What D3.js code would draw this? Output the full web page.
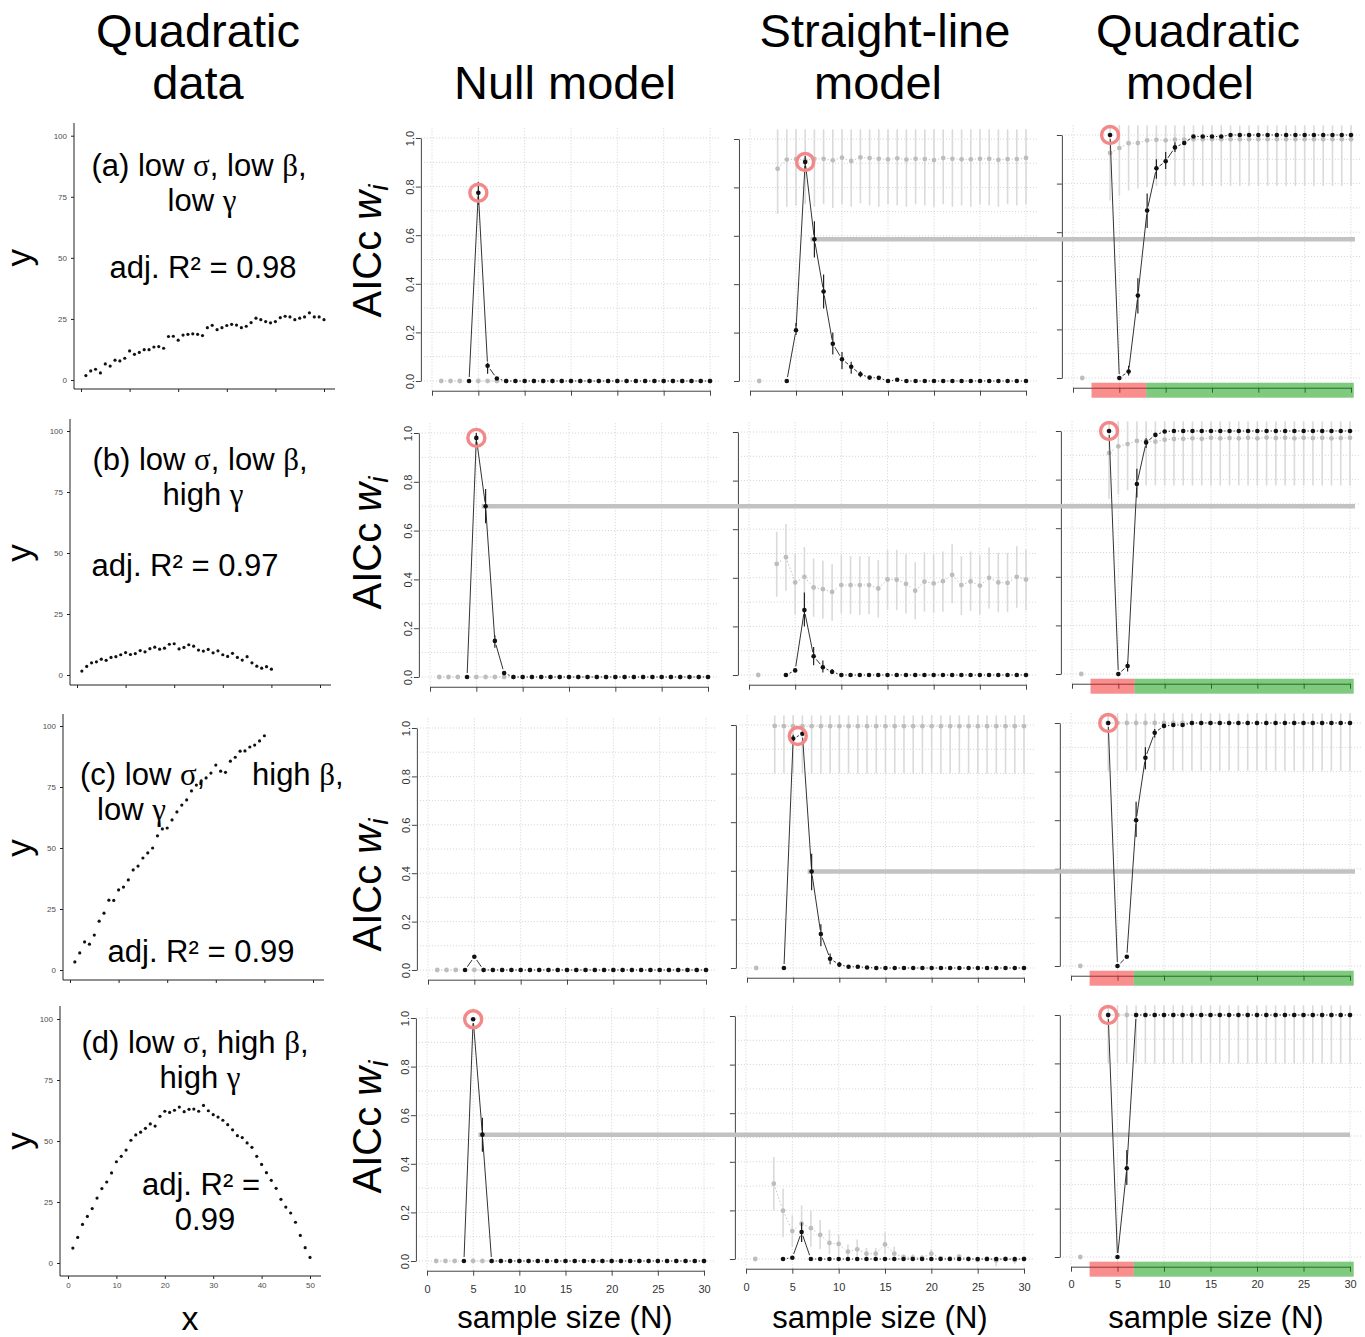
<!DOCTYPE html>
<html lang="en">
<head>
<meta charset="UTF-8">
<title>AICc weights by sample size</title>
<script src="https://d3js.org/d3.v7.min.js"></script>
<style>
  body { margin: 0; background: #fff; }
  svg { font-family: "Liberation Sans", Arial, sans-serif; }
  .grid line { stroke: #d2d2d2; stroke-dasharray: 1,2; stroke-width: 1; }
  .rax path, .rax line { stroke: #444; stroke-width: 1; }
  .rax text { font-size: 11px; fill: #333; }
  .gax line { stroke: #222; }
  .gax text { font-size: 8px; fill: #4d4d4d; }
  .big { font-size: 47px; fill: #000; }
</style>
</head>
<body>
<svg width="1365" height="1337"></svg>
<script>
// ---------- data ----------
const N = [1,2,3,4,5,6,7,8,9,10,11,12,13,14,15,16,17,18,19,20,21,22,23,24,25,26,27,28,29,30];
const gridN = [0,5,10,15,20,25,30];
const gridW = [0,0.1,0.2,0.3,0.4,0.5,0.6,0.7,0.8,0.9,1];
const tickW = [0,0.2,0.4,0.6,0.8,1];

// simulated quadratic data (left column)
const quadX = [1,2,3,4,5,6,7,8,9,10,11,12,13,14,15,16,17,18,19,20,21,22,23,24,25,26,27,28,29,30,31,32,33,34,35,36,37,38,39,40,41,42,43,44,45,46,47,48,49,50];
const quadA = [1.8,3.7,4.4,2.9,6.6,5.7,8.1,7.8,8.9,11.9,10.5,11.3,12.4,12.4,13.5,13.7,13.0,17.8,17.9,16.3,18.4,18.7,18.9,18.7,18.2,21.4,22.4,20.6,21.4,22.3,22.8,22.5,21.4,22.0,23.5,25.3,24.7,23.9,23.4,23.9,25.5,26.1,25.8,24.7,25.3,25.8,27.5,25.8,25.8,24.7];
const quadB = [1.6,3.5,5.0,5.4,6.5,6.0,7.2,7.5,8.3,9.2,8.4,8.8,10.0,9.5,10.8,11.4,10.6,11.0,12.6,12.8,10.7,11.3,12.4,11.8,10.2,9.8,10.5,9.1,9.9,8.3,7.6,8.9,7.2,6.1,7.5,5.0,3.6,2.8,3.4,2.4];
const quadC = [3.3,7.0,11.5,10.6,14.3,20.0,23.3,28.6,28.5,32.8,34.0,36.9,41.0,42.6,45.9,48.0,50.0,55.0,57.8,58.2,61.5,64.8,67.6,69.7,73.4,75.8,77.5,78.7,80.7,84.0,81.5,81.0,85.6,87.2,89.7,89.8,91.4,92.2,93.9,96.0];
const quadD = [6.1,10.5,15.8,19.1,22.3,26.6,30.5,33.2,36.9,41.5,43.7,46.3,50.3,52.5,53.6,55.2,57.0,56.1,60.1,62.2,61.7,62.6,63.9,62.0,63.0,63.1,62.2,64.6,62.4,60.8,59.8,58.5,56.7,54.6,52.2,51.4,49.2,47.4,43.7,40.4,37.0,33.9,30.6,26.1,22.9,20.5,16.7,11.3,6.3,2.3];
const quadTicksX = [0,10,20,30,40,50];
const quadTicksY = [0,25,50,75,100];

// AICc weights: black = selected statistic, gray = comparison statistic
const nullGray   = [0,0,0,null,0,0,0,0,0,0, 0,0,0,0,0,0,0,0,0,0, 0,0,0,0,0,0,0,0,0,0];
const nullABlack = [null,null,null,0,0.775,0.063,0.01,0,0,0, 0,0,0,0,0,0,0,0,0,0, 0,0,0,0,0,0,0,0,0,0];
const nullBBlack = [null,null,null,0,0.98,0.70,0.148,0.016,0,0, 0,0,0,0,0,0,0,0,0,0, 0,0,0,0,0,0,0,0,0,0];
const nullCBlack = [null,null,null,0,0.055,0,0,0,0,0, 0,0,0,0,0,0,0,0,0,0, 0,0,0,0,0,0,0,0,0,0];
const nullDBlack = [null,null,null,0,0.995,0.52,0,0,0,0, 0,0,0,0,0,0,0,0,0,0, 0,0,0,0,0,0,0,0,0,0];
const nullAErr = [[5,0.725,0.82],[6,0.03,0.075]];
const nullBErr = [[5,0.95,1.0],[6,0.63,0.77],[7,0.12,0.17]];
const nullCErr = [];
const nullDErr = [[6,0.45,0.59]];

const slABlack = [null,null,null,0,0.21,0.905,0.586,0.37,0.154,0.09, 0.059,0.028,0.014,0.013,0,0.005,0,0,0,0, 0,0,0,0,0,0,0,0,0,0];
const slAErr = [[5,0.19,0.24],[6,0.88,0.93],[7,0.51,0.66],[8,0.30,0.44],[9,0.11,0.20],[10,0.05,0.12],[11,0.03,0.08],[12,0.015,0.04]];
const slAGray = [0,null,0.877,0.915,0.917,0.912,0.918,0.918,0.912,0.923, 0.909,0.924,0.921,0.918,0.916,0.92,0.915,0.918,0.917,0.913, 0.921,0.918,0.916,0.916,0.918,0.918,0.914,0.917,0.917,0.922];
const slAGrayLo = [null,null,0.69,0.72,0.725,0.73,0.72,0.73,0.715,0.73, 0.72,0.735,0.725,0.72,0.73,0.725,0.72,0.73,0.725,0.72, 0.73,0.72,0.725,0.72,0.73,0.725,0.72,0.73,0.725,0.73];
const slGrayHiTop = [null,null,1.04,1.04,1.04,1.04,1.04,1.04,1.04,1.04, 1.04,1.04,1.04,1.04,1.04,1.04,1.04,1.04,1.04,1.04, 1.04,1.04,1.04,1.04,1.04,1.04,1.04,1.04,1.04,1.04];

const slBBlack = [null,null,null,0,0.019,0.267,0.077,0.032,0.013,0, 0,0,0,0,0,0,0,0,0,0, 0,0,0,0,0,0,0,0,0,0];
const slBErr = [[6,0.2,0.34],[7,0.04,0.115],[8,0.01,0.06],[9,0.004,0.025]];
const slBGray = [0,null,0.457,0.485,0.381,0.404,0.36,0.353,0.342,0.37, 0.37,0.37,0.37,0.356,0.393,0.392,0.375,0.347,0.384,0.377, 0.386,0.412,0.37,0.385,0.368,0.40,0.381,0.379,0.404,0.393];
const slBGrayLo = [null,null,0.322,0.347,0.25,0.27,0.24,0.233,0.223,0.253, 0.25,0.247,0.25,0.237,0.267,0.267,0.253,0.229,0.26,0.256, 0.26,0.295,0.247,0.263,0.249,0.274,0.258,0.258,0.277,0.267];
const slBGrayHi = [null,null,0.589,0.621,0.5,0.527,0.479,0.47,0.456,0.493, 0.489,0.489,0.489,0.473,0.514,0.514,0.497,0.464,0.505,0.497, 0.508,0.538,0.489,0.508,0.492,0.525,0.503,0.503,0.53,0.516];

const slCBlack = [null,null,null,0,0.944,0.964,0.397,0.14,0.038,0.014, 0.005,0.005,0.002,0,0,0,0,0,0,0, 0,0,0,0,0,0,0,0,0,0];
const slCErr = [[5,0.92,0.96],[7,0.32,0.47],[8,0.09,0.18],[9,0.015,0.06],[10,0.004,0.025]];
const slCGray = [0,null,0.996,0.995,0.995,0.995,0.995,0.995,0.995,0.995, 0.995,0.995,0.995,0.995,0.995,0.995,0.995,0.995,0.995,0.995, 0.995,0.995,0.995,0.995,0.995,0.995,0.995,0.995,0.995,0.995];
const slCGrayLo = [null,null,0.8,0.8,0.8,0.8,0.8,0.8,0.8,0.8, 0.8,0.8,0.8,0.8,0.8,0.8,0.8,0.8,0.8,0.8, 0.8,0.8,0.8,0.8,0.8,0.8,0.8,0.8,0.8,0.8];

const slDBlack = [null,null,null,0,0.005,0.111,0,0,0,0, 0,0,0,0,0,0,0,0,0,0, 0,0,0,0,0,0,0,0,0,0];
const slDErr = [[6,0.07,0.15]];
const slDGray = [0,null,0.31,0.199,0.115,0.145,0.127,0.099,0.066,0.062, 0.03,0.04,0.022,0.022,0.06,0.022,0.008,0.006,0.005,0.022, 0.004,0.002,0.01,0.001,-0.004,0.001,-0.006,0.001,-0.005,0.001];
const slDGrayLo = [null,null,0.2,0.09,0.05,0.07,0.05,0.04,0.02,0.01, 0.005,0.01,0.005,0.005,0.02,0.003,0,0,0,0.005, 0,-0.005,0,-0.01,-0.015,-0.01,-0.03,-0.01,-0.02,-0.01];
const slDGrayHi = [null,null,0.42,0.29,0.18,0.22,0.2,0.16,0.12,0.1, 0.06,0.08,0.045,0.045,0.11,0.05,0.02,0.02,0.015,0.04, 0.01,0.01,0.02,0.01,0.008,0.01,0.01,0.01,0.01,0.01];

const qGrayHi = [null,null,null,1.04,1.04,1.04,1.04,1.04,1.04,1.04, 1.04,1.04,1.04,1.04,1.04,1.04,1.04,1.04,1.04,1.04, 1.04,1.04,1.04,1.04,1.04,1.04,1.04,1.04,1.04,1.04];
const qABlack = [null,null,null,1,0,0.027,0.339,0.689,0.863,0.892, 0.949,0.967,0.994,0.994,0.994,0.994,1,1,1,1, 1,1,1,1,1,1,1,1,1,1];
const qAErr = [[6,0.01,0.05],[7,0.265,0.41],[8,0.617,0.759],[9,0.82,0.9],[10,0.86,0.93],[11,0.93,0.97]];
const qAGray = [0,null,null,0.926,0.946,0.966,0.967,0.978,0.98,0.978, 0.981,0.981,0.982,0.982,0.982,0.982,0.982,0.982,0.982,0.982, 0.982,0.982,0.982,0.982,0.982,0.982,0.982,0.982,0.982,0.982];
const qAGrayLo = [null,null,null,0.73,0.75,0.772,0.78,0.785,0.79,0.79, 0.79,0.79,0.79,0.79,0.79,0.79,0.79,0.79,0.79,0.79, 0.79,0.79,0.79,0.79,0.79,0.79,0.79,0.79,0.79,0.79];

const qBBlack = [null,null,null,1,0,0.033,0.782,0.953,0.984,0.998, 1,1,1,1,1,1,1,1,1,1, 1,1,1,1,1,1,1,1,1,1];
const qBErr = [[6,0.01,0.05],[7,0.726,0.845],[8,0.93,0.97]];
const qBGray = [0,null,null,0.909,0.937,0.946,0.959,0.959,0.956,0.964, 0.967,0.968,0.97,0.968,0.972,0.97,0.971,0.97,0.972,0.97, 0.973,0.971,0.972,0.97,0.972,0.971,0.972,0.97,0.971,0.972];
const qBGrayLo = [null,null,null,0.72,0.74,0.756,0.76,0.776,0.776,0.776, 0.776,0.776,0.776,0.776,0.776,0.776,0.776,0.776,0.776,0.776, 0.776,0.776,0.776,0.776,0.776,0.776,0.776,0.776,0.776,0.776];

const qCBlack = [null,null,null,1,0,0.038,0.6,0.857,0.96,0.988, 0.992,0.992,1,1,1,1,1,1,1,1, 1,1,1,1,1,1,1,1,1,1];
const qCErr = [[7,0.531,0.676],[8,0.81,0.9],[9,0.94,0.975]];
const qCGray = [0,null,null,1,1,1,1,1,1,1, 1,1,1,1,1,1,1,1,1,1, 1,1,1,1,1,1,1,1,1,1];
const qCGrayLo = [null,null,null,0.804,0.804,0.804,0.804,0.804,0.804,0.804, 0.804,0.804,0.804,0.804,0.804,0.804,0.804,0.804,0.804,0.804, 0.804,0.804,0.804,0.804,0.804,0.804,0.804,0.804,0.804,0.804];

const qDBlack = [null,null,null,1,0,0.367,1,1,1,1, 1,1,1,1,1,1,1,1,1,1, 1,1,1,1,1,1,1,1,1,1];
const qDErr = [[6,0.298,0.442]];
const qDGray = [0,null,null,1,1,1,1,1,1,1, 1,1,1,1,1,1,1,1,1,1, 1,1,1,1,1,1,1,1,1,1];
const qDGrayLo = [null,null,null,0.8,0.8,0.8,0.8,0.8,0.8,0.8, 0.8,0.8,0.8,0.8,0.8,0.8,0.8,0.8,0.8,0.8, 0.8,0.8,0.8,0.8,0.8,0.8,0.8,0.8,0.8,0.8];

// red / green band under the quadratic model panels (sample size ranges)
const bandStart = [2, 2, 2, 2];
const bandSwitch = [7.9, 6.75, 6.75, 6.75];
const bandEnd = [30.3, 30.4, 30.4, 30.4];

// texts
const headers = [["Quadratic","data"],["Null model"],["Straight-line","model"],["Quadratic","model"]];
const panelLines = [
  ["(a) low σ, low β,", "low γ", "adj. R² = 0.98"],
  ["(b) low σ, low β,", "high γ", "adj. R² = 0.97"],
  ["(c) low σ,", "high β,", "low γ", "adj. R² = 0.99"],
  ["(d) low σ, high β,", "high γ", "adj. R² =", "0.99"]
];

// ---------- layout ----------
const headerPos = [[198,198],[565],[885,878],[1198,1190]];
const textPos = [
  [{x:199,y:176,a:"middle"},{x:202,y:211,a:"middle"},{x:203,y:278,a:"middle"}],
  [{x:200,y:470,a:"middle"},{x:203,y:505,a:"middle"},{x:185,y:576,a:"middle"}],
  [{x:80,y:785,a:"start"},{x:252,y:785,a:"start"},{x:97,y:820,a:"start"},{x:201,y:962,a:"middle"}],
  [{x:195,y:1053,a:"middle"},{x:200,y:1088,a:"middle"},{x:201,y:1195,a:"middle"},{x:205,y:1230,a:"middle"}]
];
const leftFrames = [
  {x0:81, x50:324, y0:380, y100:135.7, ax:74, ay:389, top:123},
  {x0:77, x50:320, y0:675, y100:431, ax:70, ay:685, top:419},
  {x0:70, x50:313, y0:970, y100:726, ax:63, ay:980, top:714},
  {x0:68, x50:310, y0:1263, y100:1019, ax:60, ay:1276, top:1006}
];
const frames = [
  [{n0:432,n30:710,w1:138,w0:381},{n0:750,n30:1026,w1:139,w0:381},{n0:1073,n30:1351,w1:135,w0:378}],
  [{n0:430,n30:708,w1:433,w0:677},{n0:749,n30:1026,w1:432,w0:675},{n0:1072,n30:1350,w1:431,w0:674}],
  [{n0:428,n30:706,w1:728,w0:970},{n0:747,n30:1024,w1:725,w0:968},{n0:1071,n30:1350,w1:723,w0:966}],
  [{n0:427,n30:704,w1:1018,w0:1261},{n0:746,n30:1024,w1:1016,w0:1259},{n0:1071,n30:1350,w1:1015,w0:1257}]
];
const aiccLabelY = [251, 543, 885, 1127];
const xLabelX = [565, 880, 1216];
const linkEnd = [1355, 1355, 1355, 1350];

const panels = [
  {row:0,col:0,black:nullABlack,err:nullAErr,gray:nullGray,ring:[5,0.775]},
  {row:0,col:1,black:slABlack,err:slAErr,gray:slAGray,gLo:slAGrayLo,gHi:slGrayHiTop,ring:[6,0.905],link:7},
  {row:0,col:2,black:qABlack,err:qAErr,gray:qAGray,gLo:qAGrayLo,gHi:qGrayHi,ring:[4,1]},
  {row:1,col:0,black:nullBBlack,err:nullBErr,gray:nullGray,ring:[5,0.98],link:6},
  {row:1,col:1,black:slBBlack,err:slBErr,gray:slBGray,gLo:slBGrayLo,gHi:slBGrayHi},
  {row:1,col:2,black:qBBlack,err:qBErr,gray:qBGray,gLo:qBGrayLo,gHi:qGrayHi,ring:[4,1]},
  {row:2,col:0,black:nullCBlack,err:nullCErr,gray:nullGray},
  {row:2,col:1,black:slCBlack,err:slCErr,gray:slCGray,gLo:slCGrayLo,gHi:slGrayHiTop,ring:[5.5,0.955],link:7},
  {row:2,col:2,black:qCBlack,err:qCErr,gray:qCGray,gLo:qCGrayLo,gHi:qGrayHi,ring:[4,1]},
  {row:3,col:0,black:nullDBlack,err:nullDErr,gray:nullGray,ring:[5,0.995],link:6},
  {row:3,col:1,black:slDBlack,err:slDErr,gray:slDGray,gLo:slDGrayLo,gHi:slDGrayHi},
  {row:3,col:2,black:qDBlack,err:qDErr,gray:qDGray,gLo:qDGrayLo,gHi:qGrayHi,ring:[4,1]}
];

const svg = d3.select("svg");
const defs = svg.append("defs");
const back = svg.append("g");
const mid = svg.append("g");
const front = svg.append("g");

// write a string, putting greek letters in a serif face
function richText(sel, str) {
  str.split(/([σβγ])/).filter(s => s.length).forEach(s => {
    const t = sel.append("tspan").text(s);
    if (/[σβγ]/.test(s)) t.attr("font-family", "'Liberation Serif', 'DejaVu Serif', serif");
  });
}

// R "type b" line: segments with a gap at each point
function gapSegments(pts, gap) {
  const out = [];
  for (let k = 1; k < pts.length; k++) {
    const a = pts[k-1], b = pts[k];
    if (!a || !b) continue;
    const dx = b[0]-a[0], dy = b[1]-a[1], len = Math.hypot(dx, dy);
    if (len <= 2*gap) continue;
    const ux = dx/len, uy = dy/len;
    out.push([a[0]+ux*gap, a[1]+uy*gap, b[0]-ux*gap, b[1]-uy*gap]);
  }
  return out;
}

// ---------- headers ----------
headers.forEach((lines, c) => {
  lines.forEach((s, k) => {
    const baseline = lines.length === 2 ? (k === 0 ? 47 : 99) : 99;
    svg.append("text").attr("class","big").attr("x", headerPos[c][k]).attr("y", baseline)
      .attr("text-anchor","middle").text(s);
  });
});

// ---------- left column: quadratic data ----------
[quadA, quadB, quadC, quadD].forEach((vals, i) => {
  const F = leftFrames[i];
  const x = d3.scaleLinear().domain([0,50]).range([F.x0, F.x50]);
  const y = d3.scaleLinear().domain([0,100]).range([F.y0, F.y100]);

  back.append("line").attr("x1",F.ax).attr("x2",F.ax).attr("y1",F.top).attr("y2",F.ay).attr("stroke","#222");
  back.append("line").attr("x1",F.ax).attr("x2",x(50)+11).attr("y1",F.ay).attr("y2",F.ay).attr("stroke","#222");

  const ya = back.append("g").attr("class","gax").attr("transform",`translate(${F.ax},0)`)
    .call(d3.axisLeft(y).tickValues(quadTicksY).tickSize(3).tickPadding(4));
  ya.select(".domain").remove();
  const xa = back.append("g").attr("class","gax").attr("transform",`translate(0,${F.ay})`)
    .call(d3.axisBottom(x).tickValues(quadTicksX).tickSize(3).tickPadding(3)
      .tickFormat(i === 3 ? d3.format("d") : ""));
  xa.select(".domain").remove();

  front.append("g").selectAll("circle").data(vals).join("circle")
    .attr("cx", (v, k) => x(quadX[k])).attr("cy", v => y(v)).attr("r", 1.6).attr("fill", "#111");

  panelLines[i].forEach((s, k) => {
    const p = textPos[i][k];
    const t = svg.append("text").attr("x", p.x).attr("y", p.y).attr("text-anchor", p.a)
      .attr("font-size", 31).attr("fill", "#000");
    richText(t, s);
  });

  const yc = (F.y0 + F.y100) / 2;
  svg.append("text").attr("transform", `translate(31,${yc}) rotate(-90)`)
    .attr("text-anchor","middle").attr("font-size", 35).text("y");
});
svg.append("text").attr("x", 190).attr("y", 1330).attr("text-anchor","middle").attr("font-size", 34).text("x");

// ---------- AICc weight panels ----------
panels.forEach((p, idx) => {
  const F = frames[p.row][p.col];
  const x = d3.scaleLinear().domain([0,30]).range([F.n0, F.n30]);
  const y = d3.scaleLinear().domain([0,1]).range([F.w0, F.w1]);
  const L = x(-1.2), R = x(31.2), T = y(1.04), B = y(-0.04);
  const clipId = "clip" + idx;
  defs.append("clipPath").attr("id", clipId).append("rect")
    .attr("x", L).attr("y", T).attr("width", R - L).attr("height", B - T);

  const g = back.append("g").attr("class","grid");
  g.selectAll("line.v").data(gridN).join("line").attr("class","v")
    .attr("x1", d => x(d)).attr("x2", d => x(d)).attr("y1", T).attr("y2", B);
  g.selectAll("line.h").data(gridW).join("line").attr("class","h")
    .attr("x1", L).attr("x2", R).attr("y1", d => y(d)).attr("y2", d => y(d));

  const ya = back.append("g").attr("class","rax").attr("transform",`translate(${L},0)`)
    .call(d3.axisLeft(y).tickValues(tickW).tickSize(5).tickSizeOuter(0)
      .tickFormat(p.col === 0 ? d3.format(".1f") : ""));
  ya.selectAll(".tick text").attr("x", null).attr("dy", null).attr("text-anchor","middle")
    .attr("transform","translate(-7,0) rotate(-90)");
  back.append("g").attr("class","rax").attr("transform",`translate(0,${B})`)
    .call(d3.axisBottom(x).tickValues(gridN).tickSize(5).tickSizeOuter(0).tickPadding(9)
      .tickFormat(p.row === 3 ? d3.format("d") : ""));

  if (p.col === 2) {
    const r = p.row;
    back.append("rect").attr("x", x(bandStart[r])).attr("width", x(bandSwitch[r]) - x(bandStart[r]))
      .attr("y", B - 5).attr("height", 15).attr("fill", "rgb(243,30,30)").attr("fill-opacity", 0.5);
    back.append("rect").attr("x", x(bandSwitch[r])).attr("width", x(bandEnd[r]) - x(bandSwitch[r]))
      .attr("y", B - 5).attr("height", 15).attr("fill", "rgb(0,150,0)").attr("fill-opacity", 0.5);
  }

  const f = front.append("g").attr("clip-path", `url(#${clipId})`);

  if (p.gLo) {
    const bars = N.map((n, k) => ({n, lo: p.gLo[k], hi: p.gHi[k]})).filter(d => d.lo != null);
    f.append("g").selectAll("line").data(bars).join("line")
      .attr("x1", d => x(d.n)).attr("x2", d => x(d.n)).attr("y1", d => y(d.lo)).attr("y2", d => y(d.hi))
      .attr("stroke", "#dadada").attr("stroke-width", 1.6);
  }
  const gPts = p.gray.map((v, k) => v == null ? null : [x(N[k]), y(v)]);
  f.append("g").selectAll("line").data(gapSegments(gPts, 4)).join("line")
    .attr("x1", d => d[0]).attr("y1", d => d[1]).attr("x2", d => d[2]).attr("y2", d => d[3])
    .attr("stroke", "#c4c4c4").attr("stroke-dasharray", "1.5,2");
  f.append("g").selectAll("circle").data(gPts.filter(d => d)).join("circle")
    .attr("cx", d => d[0]).attr("cy", d => d[1]).attr("r", 2.4).attr("fill", "#bdbdbd");

  const bPts = p.black.map((v, k) => v == null ? null : [x(N[k]), y(v)]);
  f.append("g").selectAll("line").data(gapSegments(bPts, 4)).join("line")
    .attr("x1", d => d[0]).attr("y1", d => d[1]).attr("x2", d => d[2]).attr("y2", d => d[3])
    .attr("stroke", "#333").attr("stroke-width", 1);
  f.append("g").selectAll("line").data(p.err).join("line")
    .attr("x1", d => x(d[0])).attr("x2", d => x(d[0])).attr("y1", d => y(d[1])).attr("y2", d => y(d[2]))
    .attr("stroke", "#222").attr("stroke-width", 1.2);
  f.append("g").selectAll("circle").data(bPts.filter(d => d)).join("circle")
    .attr("cx", d => d[0]).attr("cy", d => d[1]).attr("r", 2.3).attr("fill", "#111");

  if (p.ring) {
    front.append("circle").attr("cx", x(p.ring[0])).attr("cy", y(p.ring[1])).attr("r", 8.5)
      .attr("fill", "none").attr("stroke", "#f28888").attr("stroke-width", 3.4);
  }

  if (p.link) {
    const v = p.black[N.indexOf(p.link)];
    mid.append("line").attr("x1", x(p.link) - 4).attr("x2", linkEnd[p.row])
      .attr("y1", y(v)).attr("y2", y(v)).attr("stroke", "#c2c2c2").attr("stroke-width", 4.5);
  }

  if (p.col === 0) {
    const t = svg.append("text").attr("transform", `translate(381,${aiccLabelY[p.row]}) rotate(-90)`)
      .attr("text-anchor", "middle").attr("font-size", 40);
    t.append("tspan").text("AICc ");
    t.append("tspan").attr("font-style", "italic").text("w");
    t.append("tspan").attr("font-style", "italic").attr("font-size", 28).attr("dy", 7).text("i");
  }
  if (p.row === 3) {
    svg.append("text").attr("x", xLabelX[p.col]).attr("y", 1328).attr("text-anchor", "middle")
      .attr("font-size", 31).text("sample size (N)");
  }
});
</script>
</body>
</html>
